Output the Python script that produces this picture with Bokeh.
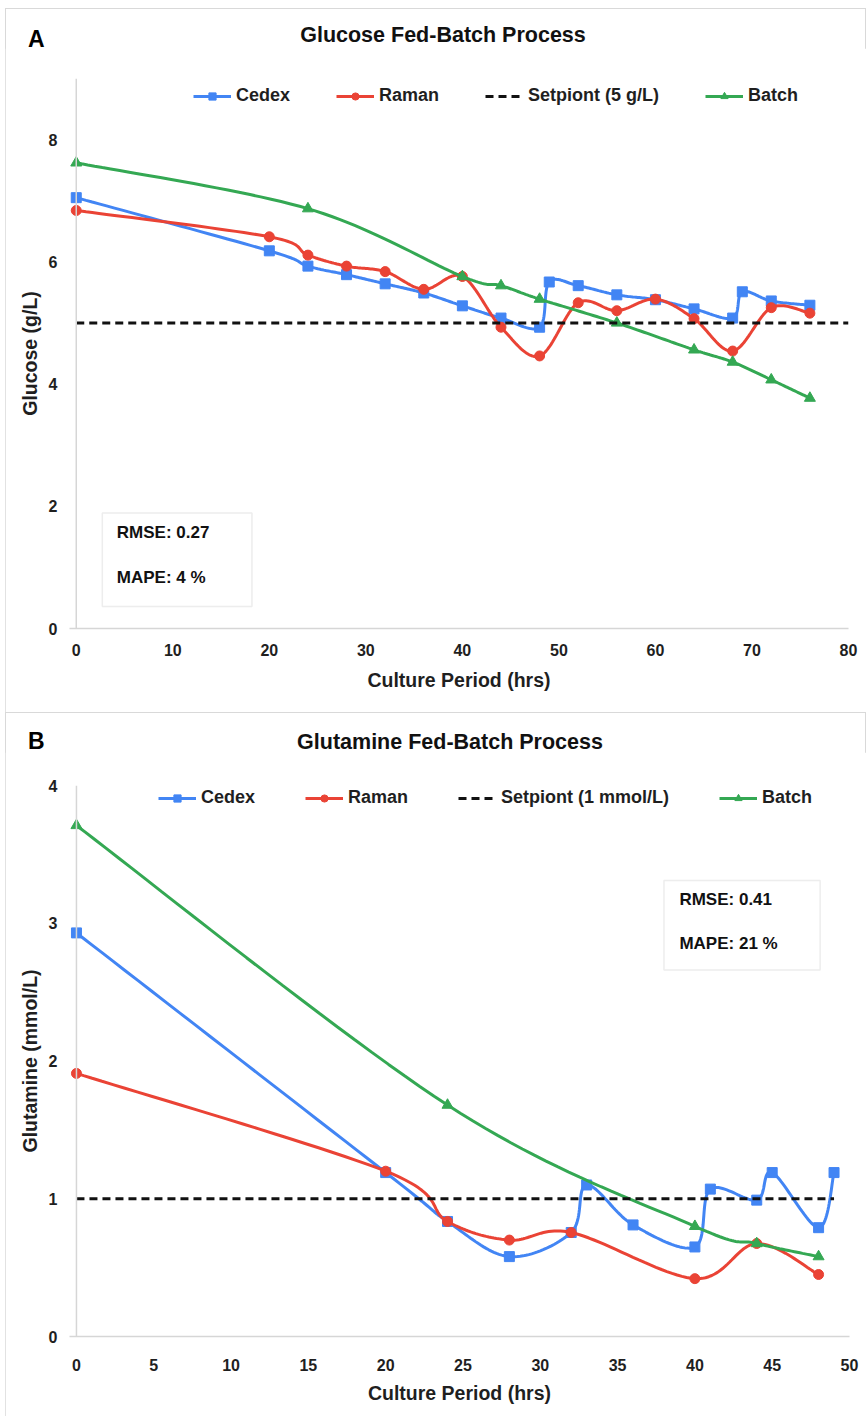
from bokeh.plotting import figure
from bokeh.models import (Legend, LegendItem, Label, BoxAnnotation, Span,
                          FixedTicker, Range1d, Div)
from bokeh.layouts import column
from bokeh.embed import file_html
from bokeh.resources import INLINE

# ---------------- data ----------------
glc_cedex_t = [0, 20, 24, 28, 32, 36, 40, 44, 48, 49, 52, 56, 60, 64, 68, 69, 72, 76]
glc_cedex = [7.05, 6.18, 5.93, 5.79, 5.64, 5.49, 5.28, 5.08, 4.93, 5.67, 5.61, 5.46,
             5.38, 5.23, 5.08, 5.51, 5.36, 5.29]
glc_raman_t = [0, 20, 24, 28, 32, 36, 40, 44, 48, 52, 56, 60, 64, 68, 72, 76]
glc_raman = [6.84, 6.41, 6.11, 5.93, 5.84, 5.55, 5.76, 4.93, 4.46, 5.33, 5.20, 5.39,
             5.07, 4.54, 5.25, 5.16]
glc_batch_t = [0, 24, 40, 44, 48, 56, 64, 68, 72, 76]
glc_batch = [7.62, 6.87, 5.76, 5.61, 5.39, 5.00, 4.56, 4.36, 4.07, 3.77]
glc_setpoint_t = [0, 80]
glc_setpoint = [5.0, 5.0]

gln_cedex_t = [0, 20, 24, 28, 32, 33, 36, 40, 41, 44, 45, 48, 49]
gln_cedex = [2.93, 1.19, 0.835, 0.58, 0.755, 1.10, 0.81, 0.65, 1.07, 0.99, 1.19, 0.79, 1.19]
gln_raman_t = [0, 20, 24, 28, 32, 40, 44, 48]
gln_raman = [1.91, 1.20, 0.835, 0.70, 0.755, 0.42, 0.675, 0.45]
gln_batch_t = [0, 24, 40, 44, 48]
gln_batch = [3.71, 1.68, 0.80, 0.675, 0.58]
gln_setpoint_t = [0, 49]
gln_setpoint = [1.0, 1.0]

glc_xticks = [0, 10, 20, 30, 40, 50, 60, 70, 80]
glc_yticks = [0, 2, 4, 6, 8]
gln_xticks = [0, 5, 10, 15, 20, 25, 30, 35, 40, 45, 50]
gln_yticks = [0, 1, 2, 3, 4]

glc_stats = ["RMSE: 0.27", "MAPE: 4 %"]
gln_stats = ["RMSE: 0.41", "MAPE: 21 %"]

BLUE = "#4285F4"
RED = "#EA4335"
GREEN = "#34A853"
FONT = "Liberation Sans"
TXT = "#1f1f1f"
AX = "#d6d6d6"

W = 861
HDR_H = 40
H = 664


def smooth(xs, ys, sx, sy, n=24):
    """Excel-like smoothed line (cubic Bezier, Catmull-Rom control points) in pixel space."""
    px = [x * sx for x in xs]
    py = [y * sy for y in ys]
    m = len(px)
    ox, oy = [px[0]], [py[0]]
    for i in range(m - 1):
        p0 = (px[i - 1], py[i - 1]) if i > 0 else (px[i], py[i])
        p1 = (px[i], py[i])
        p2 = (px[i + 1], py[i + 1])
        p3 = (px[i + 2], py[i + 2]) if i + 2 < m else (px[i + 1], py[i + 1])
        c1 = (p1[0] + (p2[0] - p0[0]) / 6.0, p1[1] + (p2[1] - p0[1]) / 6.0)
        c2 = (p2[0] - (p3[0] - p1[0]) / 6.0, p2[1] - (p3[1] - p1[1]) / 6.0)
        for k in range(1, n + 1):
            t = k / n
            a = (1 - t) ** 3
            b = 3 * (1 - t) ** 2 * t
            c = 3 * (1 - t) * t ** 2
            d = t ** 3
            ox.append(a * p1[0] + b * c1[0] + c * c2[0] + d * p2[0])
            oy.append(a * p1[1] + b * c1[1] + c * c2[1] + d * p2[1])
    return [x / sx for x in ox], [y / sy for y in oy]


def header(letter, title, letter_top, title_center_x, title_top):
    html = (
        f'<div style="position:relative;width:{W}px;height:{HDR_H}px;'
        f"font-family:'Liberation Sans',Arial,sans-serif;font-weight:bold;color:#111;\">"
        f'<span style="position:absolute;left:23px;top:{letter_top}px;font-size:23px;'
        f'line-height:24px;white-space:nowrap;color:#000;">{letter}</span>'
        f'<span style="position:absolute;left:{title_center_x - 250}px;width:500px;'
        f'text-align:center;top:{title_top}px;font-size:21.5px;line-height:24px;'
        f'white-space:nowrap;">{title}</span></div>'
    )
    return Div(text=html, width=W, height=HDR_H, margin=0)


def make_panel(ylabel, xr, yr, xticks, yticks, series, setp, setp_label,
               stats, stats_box, stats_txt, borders, legend_loc,
               legend_spacing, xstand):
    bl, br, bt, bb = borders
    p = figure(width=W, height=H, x_range=Range1d(*xr), y_range=Range1d(*yr),
               output_backend="svg", toolbar_location=None,
               min_border_left=bl, min_border_right=br, min_border_top=bt,
               min_border_bottom=bb, margin=0)
    p.outline_line_color = None
    p.xgrid.visible = False
    p.ygrid.visible = False
    p.background_fill_color = "white"
    p.border_fill_color = "white"

    fw = W - bl - br
    fh = H - bt - bb
    sx = fw / (xr[1] - xr[0])
    sy = fh / (yr[1] - yr[0])

    for ax in (p.xaxis[0], p.yaxis[0]):
        ax.major_tick_line_color = None
        ax.minor_tick_line_color = None
        ax.major_label_text_font = FONT
        ax.major_label_text_font_style = "bold"
        ax.major_label_text_font_size = "16px"
        ax.major_label_text_color = TXT
        ax.axis_label_text_font = FONT
        ax.axis_label_text_font_style = "bold"
        ax.axis_label_text_font_size = "19.5px"
        ax.axis_label_text_color = TXT
    p.xaxis[0].ticker = FixedTicker(ticks=xticks)
    p.yaxis[0].ticker = FixedTicker(ticks=yticks)
    p.xaxis[0].axis_line_color = AX
    p.xaxis[0].axis_line_width = 1.5
    p.yaxis[0].axis_line_color = None
    p.xaxis[0].axis_label = "Culture Period (hrs)"
    p.yaxis[0].axis_label = ylabel
    p.xaxis[0].major_label_standoff = xstand[0]
    p.xaxis[0].axis_label_standoff = xstand[1]
    p.yaxis[0].major_label_standoff = 6
    p.yaxis[0].axis_label_standoff = 5
    p.add_layout(Span(location=0, dimension="height", line_color=AX, line_width=1.5))

    items = []
    for name, xs, ys, color, marker, msize in series:
        cx, cy = smooth(xs, ys, sx, sy)
        lr = p.line(cx, cy, line_color=color, line_width=3)
        sr = p.scatter(xs, ys, marker=marker, size=msize, fill_color=color,
                       line_color=color)
        items.append(LegendItem(label=name, renderers=[lr, sr]))
    sp_x, sp_y = setp
    spr = p.line(sp_x, sp_y, line_color="#111111", line_width=3, line_dash="8 5")
    items.insert(2, LegendItem(label=setp_label, renderers=[spr]))

    leg = Legend(items=items, orientation="horizontal", location=legend_loc,
                 border_line_color=None, background_fill_alpha=0,
                 label_text_font=FONT, label_text_font_style="bold",
                 label_text_font_size="18px", label_text_color=TXT,
                 glyph_width=38, glyph_height=18, spacing=legend_spacing,
                 label_standoff=5, margin=0, padding=0)
    p.add_layout(leg)

    l, r, b, t = stats_box
    p.add_layout(BoxAnnotation(left=l, right=r, bottom=b, top=t, fill_color="white",
                               fill_alpha=1, line_color="#c4c4c4", line_width=1.5))
    tx, ty1, ty2 = stats_txt
    for s, yy in zip(stats, (ty1, ty2)):
        p.add_layout(Label(x=tx, y=yy, text=s, text_font=FONT, text_font_style="bold",
                           text_font_size="17px", text_color="#111111",
                           text_baseline="middle"))
    return p


OUTLINE = {"outline": "1px solid #d9d9d9", "outline-offset": "-1px"}

h1 = header("A", "Glucose Fed-Batch Process", 19, 438, 15)
p1 = make_panel(
    "Glucose (g/L)",
    (-0.7, 80), (0, 9), glc_xticks, glc_yticks,
    [("Cedex", glc_cedex_t, glc_cedex, BLUE, "square", 10),
     ("Raman", glc_raman_t, glc_raman, RED, "circle", 10),
     ("Batch", glc_batch_t, glc_batch, GREEN, "triangle", 11)],
    (glc_setpoint_t, glc_setpoint), "Setpiont (5 g/L)",
    glc_stats, (2.7, 18.2, 0.36, 1.89), (4.2, 1.57, 0.84),
    (64, 18, 30, 84), (124, 522), 46, (9, 10))
panel1 = column(h1, p1, spacing=0, margin=(8, 0, 0, 5), styles=OUTLINE)

h2 = header("B", "Glutamine Fed-Batch Process", 17, 445, 18)
p2 = make_panel(
    "Glutamine (mmol/L)",
    (-0.45, 50), (0, 4), gln_xticks, gln_yticks,
    [("Cedex", gln_cedex_t, gln_cedex, BLUE, "square", 10),
     ("Raman", gln_raman_t, gln_raman, RED, "circle", 10),
     ("Batch", gln_batch_t, gln_batch, GREEN, "triangle", 11)],
    (gln_setpoint_t, gln_setpoint), "Setpiont (1 mmol/L)",
    gln_stats, (38.0, 48.1, 2.66, 3.31), (39.0, 3.17, 2.85),
    (64, 17, 33, 80), (89, 528), 50, (16, 8))
panel2 = column(h2, p2, spacing=0, margin=(0, 0, 0, 5), styles=OUTLINE)

layout = column(panel1, panel2, spacing=0)
open("out.html", "w").write(file_html(layout, INLINE))
